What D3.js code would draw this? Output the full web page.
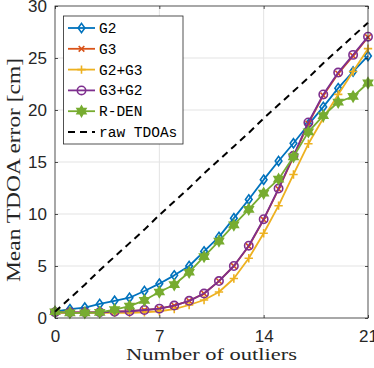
<!DOCTYPE html>
<html>
<head>
<meta charset="utf-8">
<script src="https://cdn.jsdelivr.net/npm/d3@7/dist/d3.min.js"></script>
<style>
  html, body { margin: 0; padding: 0; background: #fff; }
  svg { display: block; }
</style>
</head>
<body>
<svg id="chart" width="374" height="368"></svg>
<script>
// ---- data ----
const outliers = d3.range(0, 22);
const g2      = [0.6, 0.85, 1.0, 1.35, 1.65, 1.95, 2.6, 3.3, 4.1, 5.0, 6.4, 7.8, 9.6, 11.4, 13.3, 15.1, 16.8, 18.6, 20.3, 22.1, 23.7, 25.2];
const g3      = [0.55, 0.55, 0.55, 0.55, 0.6, 0.65, 0.75, 0.9, 1.2, 1.65, 2.35, 3.55, 5.0, 6.9, 9.45, 12.4, 15.5, 18.7, 21.4, 23.5, 25.2, 27.0];
const g2g3    = [0.5, 0.5, 0.5, 0.5, 0.5, 0.5, 0.55, 0.65, 0.85, 1.25, 1.73, 2.5, 3.8, 5.75, 8.15, 10.8, 13.8, 16.75, 19.2, 21.5, 23.7, 25.9];
const g3g2    = [0.55, 0.55, 0.55, 0.55, 0.6, 0.65, 0.77, 0.9, 1.2, 1.65, 2.35, 3.55, 5.0, 6.95, 9.5, 12.45, 15.6, 18.8, 21.5, 23.6, 25.3, 27.05];
const rden    = [0.6, 0.5, 0.5, 0.55, 0.8, 1.15, 1.7, 2.5, 3.2, 4.4, 5.9, 7.4, 8.95, 10.45, 12.0, 13.35, 15.5, 17.9, 19.45, 20.75, 21.3, 22.6];
const rawTdoa = [0.6, 1.9, 3.2, 4.6, 5.9, 7.2, 8.5, 9.9, 11.2, 12.5, 13.9, 15.2, 16.5, 17.8, 19.2, 20.5, 21.8, 23.1, 24.5, 25.8, 27.1, 28.4];
const seriesNames = ["G2", "G3", "G2+G3", "G3+G2", "R-DEN", "raw TDOAs"];
const xTicks = [0, 7, 14, 21];
const yTicks = [0, 5, 10, 15, 20, 25, 30];
const xTitle = "Number of outliers";
const yTitle = "Mean TDOA error [cm]";

// ---- layout ----
const L = 55, R = 368, T = 6, B = 318;
const svg = d3.select("#chart");
const x = d3.scaleLinear().domain([0, 21]).range([L, R]);
const y = d3.scaleLinear().domain([0, 30]).range([B, T]);
const axisColor = "#262626";
const tickFont = "'Liberation Sans', Arial, sans-serif";
const titleFont = "'Liberation Serif', 'Times New Roman', serif";

// hexagram symbol
const hexagram = {
  draw(ctx, size) {
    const r = Math.sqrt(size) * 0.62;
    const ri = r / Math.sqrt(3);
    for (let i = 0; i < 12; i++) {
      const a = -Math.PI / 2 + i * Math.PI / 6;
      const rr = i % 2 === 0 ? r : ri;
      const px = rr * Math.cos(a), py = rr * Math.sin(a);
      if (i === 0) ctx.moveTo(px, py); else ctx.lineTo(px, py);
    }
    ctx.closePath();
  }
};
const plusSym = {
  draw(ctx, size) {
    const r = Math.sqrt(size) / 2;
    ctx.moveTo(-r, 0); ctx.lineTo(r, 0);
    ctx.moveTo(0, -r); ctx.lineTo(0, r);
  }
};
const crossSym = {
  draw(ctx, size) {
    const r = Math.sqrt(size) / 2;
    ctx.moveTo(-r, -r); ctx.lineTo(r, r);
    ctx.moveTo(-r, r); ctx.lineTo(r, -r);
  }
};
const diamondSym = {
  draw(ctx, size) {
    const h = Math.sqrt(size) / 2, w = h * 0.72;
    ctx.moveTo(0, -h); ctx.lineTo(w, 0); ctx.lineTo(0, h); ctx.lineTo(-w, 0); ctx.closePath();
  }
};

const series = [
  { name: seriesNames[0], values: g2,   color: "#0072BD", sym: diamondSym,   size: 85, fill: "none" },
  { name: seriesNames[1], values: g3,   color: "#D95319", sym: crossSym,     size: 32, fill: "none" },
  { name: seriesNames[2], values: g2g3, color: "#EDB120", sym: plusSym,      size: 70, fill: "none" },
  { name: seriesNames[3], values: g3g2, color: "#7E2F8E", sym: d3.symbolCircle, size: 55, fill: "none" },
  { name: seriesNames[4], values: rden, color: "#77AC30", sym: hexagram,     size: 68, fill: "#77AC30" },
  { name: seriesNames[5], values: rawTdoa, color: "#000000", sym: null, size: 0, fill: "none", dash: "7,5" }
];

// ---- grid ----
const grid = svg.append("g");
grid.selectAll("line.gx").data(xTicks.slice(1, -1)).join("line")
  .attr("x1", d => x(d)).attr("x2", d => x(d)).attr("y1", T).attr("y2", B)
  .attr("stroke", "#e3e3e3").attr("stroke-width", 1);
grid.selectAll("line.gy").data(yTicks.slice(1, -1)).join("line")
  .attr("y1", d => y(d)).attr("y2", d => y(d)).attr("x1", L).attr("x2", R)
  .attr("stroke", "#e3e3e3").attr("stroke-width", 1);

// ---- series ----
const lineGen = d3.line().x((d, i) => x(outliers[i])).y(d => y(d));
series.forEach(s => {
  const g = svg.append("g");
  g.append("path").datum(s.values)
    .attr("d", lineGen)
    .attr("fill", "none")
    .attr("stroke", s.color)
    .attr("stroke-width", s.dash ? 2 : 1.8)
    .attr("stroke-dasharray", s.dash || null)
    .attr("stroke-linejoin", "round");
  if (s.sym) {
    const sym = d3.symbol().type(s.sym).size(s.size);
    g.selectAll("path.m").data(s.values).join("path")
      .attr("class", "m")
      .attr("transform", (d, i) => `translate(${x(outliers[i])},${y(d)})`)
      .attr("d", sym)
      .attr("fill", s.fill)
      .attr("stroke", s.color)
      .attr("stroke-width", 1.6);
  }
});

// ---- axes ----
const styleAxis = g => {
  g.select(".domain").remove();
  g.selectAll(".tick line").attr("stroke", axisColor).attr("stroke-width", 0.8);
  g.selectAll(".tick text").attr("fill", axisColor)
    .style("font-family", tickFont).style("font-size", "17px");
};
svg.append("g").attr("transform", `translate(0,${B})`)
  .call(d3.axisBottom(x).tickValues(xTicks).tickFormat(d3.format("d")).tickSizeInner(-3).tickSizeOuter(0).tickPadding(12))
  .call(styleAxis);
svg.append("g").attr("transform", `translate(0,${T})`)
  .call(d3.axisTop(x).tickValues(xTicks).tickFormat("").tickSizeInner(-3).tickSizeOuter(0))
  .call(styleAxis);
svg.append("g").attr("transform", `translate(${L},0)`)
  .call(d3.axisLeft(y).tickValues(yTicks).tickFormat(d3.format("d")).tickSizeInner(-3).tickSizeOuter(0).tickPadding(8))
  .call(styleAxis);
svg.append("g").attr("transform", `translate(${R},0)`)
  .call(d3.axisRight(y).tickValues(yTicks).tickFormat("").tickSizeInner(-3).tickSizeOuter(0))
  .call(styleAxis);
svg.append("rect").attr("x", L).attr("y", T).attr("width", R - L).attr("height", B - T)
  .attr("fill", "none").attr("stroke", axisColor).attr("stroke-width", 0.8);

// ---- titles ----
svg.append("text").attr("x", (126 + 297) / 2).attr("y", 360)
  .attr("text-anchor", "middle")
  .attr("textLength", 171).attr("lengthAdjust", "spacingAndGlyphs")
  .style("font-family", titleFont).style("font-size", "17px")
  .attr("fill", axisColor).text(xTitle);
svg.append("text").attr("transform", `translate(20,${(58 + 282) / 2}) rotate(-90)`)
  .attr("text-anchor", "middle")
  .attr("textLength", 224).attr("lengthAdjust", "spacingAndGlyphs")
  .style("font-family", titleFont).style("font-size", "18.5px")
  .attr("fill", axisColor).text(yTitle);

// ---- legend ----
const lg = svg.append("g");
lg.append("rect").attr("x", 63.5).attr("y", 16).attr("width", 119.5).attr("height", 128)
  .attr("fill", "#fff").attr("stroke", axisColor).attr("stroke-width", 0.8);
series.forEach((s, i) => {
  const yy = 28 + i * 20.8;
  lg.append("line").attr("x1", 68).attr("x2", 95).attr("y1", yy).attr("y2", yy)
    .attr("stroke", s.color).attr("stroke-width", s.dash ? 2 : 1.8)
    .attr("stroke-dasharray", s.dash || null);
  if (s.sym) {
    lg.append("path").attr("transform", `translate(81.5,${yy})`)
      .attr("d", d3.symbol().type(s.sym).size(s.size))
      .attr("fill", s.fill).attr("stroke", s.color).attr("stroke-width", 1.6);
  }
  lg.append("text").attr("x", 99).attr("y", yy).attr("dy", "0.35em")
    .style("font-family", "'Liberation Mono', 'Courier New', monospace").style("font-size", "14.5px")
    .attr("fill", "#000").text(s.name);
});
</script>
</body>
</html>
